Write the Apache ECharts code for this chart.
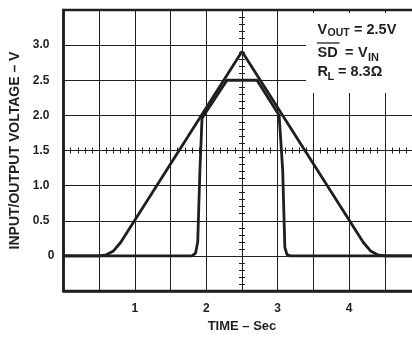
<!DOCTYPE html>
<html>
<head>
<meta charset="utf-8">
<script src="https://cdn.jsdelivr.net/npm/echarts@6/dist/echarts.min.js"></script>
<style>
  html, body { margin: 0; padding: 0; background: #fff; }
  #chart { width: 412px; height: 337px; }
</style>
</head>
<body>
<div id="chart"></div>
<script>
// input ramp (triangle), time in sec / volts
var inTime  = [0, 0.5, 0.6, 0.7, 0.8, 2.5, 4.2, 4.3, 4.4, 4.5, 5];
var inVolts = [0, 0, 0.015, 0.07, 0.19, 2.91, 0.19, 0.07, 0.015, 0, 0];
// output (clamped at 2.5V, shut down below ~2V)
var outTime  = [0, 1.8, 1.85, 1.88, 1.91, 1.94, 2.29, 2.71, 3.02, 3.07, 3.1, 3.13, 3.17, 5];
var outVolts = [0, 0, 0.04, 0.2, 1.2, 1.96, 2.5, 2.5, 2.0, 1.22, 0.12, 0.02, 0, 0];

var xTicks = [1, 2, 3, 4];
var yTicks = [0, 0.5, 1.0, 1.5, 2.0, 2.5, 3.0];

var FONT = '"Liberation Sans", Arial, sans-serif';
var INK = '#1f1f1f';

function pairs(t, v) {
  return t.map(function (x, i) { return [x, v[i]]; });
}

var chart = echarts.init(document.getElementById('chart'));

// 中心十字线上的小刻度
function crossX(inside) {
  return {
    type: 'value', min: 0, max: 5, interval: 0.5,
    position: 'bottom', offset: -140.5,
    axisLine: { show: false },
    axisTick: { show: true, inside: inside, length: 3, lineStyle: { color: INK, width: 1 } },
    minorTick: { show: true, splitNumber: 5, length: 3, lineStyle: { color: INK, width: 1 } },
    axisLabel: { show: false },
    splitLine: { show: false }
  };
}
function crossY(inside) {
  return {
    type: 'value', min: -0.5, max: 3.5, interval: 0.5,
    position: 'left', offset: -178.5,
    axisLine: { show: false },
    axisTick: { show: true, inside: inside, length: 3, lineStyle: { color: INK, width: 1 } },
    minorTick: { show: true, splitNumber: 5, length: 3, lineStyle: { color: INK, width: 1 } },
    axisLabel: { show: false },
    splitLine: { show: false }
  };
}

var option = {
  animation: false,
  backgroundColor: '#fff',
  grid: {
    show: true,
    left: 63.5, top: 10, width: 357, height: 281,
    outerBoundsMode: 'none',
    containLabel: false,
    borderColor: INK, borderWidth: 2.5
  },
  xAxis: [
    {
      type: 'value', min: 0, max: 5, interval: 0.5,
      name: 'TIME – Sec',
      nameLocation: 'middle', nameGap: 20,
      nameTextStyle: { color: INK, fontFamily: FONT, fontWeight: 'bold', fontSize: 13 },
      axisLine: { show: true, onZero: false, lineStyle: { color: INK, width: 2.5 } },
      axisTick: { show: false },
      axisLabel: {
        color: INK, fontFamily: FONT, fontWeight: 'bold', fontSize: 12, margin: 12,
        formatter: function (v) { return xTicks.indexOf(v) >= 0 ? String(v) : ''; }
      },
      splitLine: { show: true, lineStyle: { color: INK, width: 1 } }
    },
    crossX(false),
    crossX(true)
  ],
  yAxis: [
    {
      type: 'value', min: -0.5, max: 3.5, interval: 0.5,
      name: 'INPUT/OUTPUT VOLTAGE – V',
      nameLocation: 'middle', nameGap: 40,
      nameTextStyle: { color: INK, fontFamily: FONT, fontWeight: 'bold', fontSize: 14 },
      axisLine: { show: true, onZero: false, lineStyle: { color: INK, width: 2.5 } },
      axisTick: { show: false },
      axisLabel: {
        color: INK, fontFamily: FONT, fontWeight: 'bold', fontSize: 12, margin: 9,
        formatter: function (v) {
          if (yTicks.indexOf(v) < 0) return '';
          if (v === 0) return '0';
          return '{a|' + v.toFixed(1) + '}';
        },
        rich: { a: { color: INK, fontFamily: FONT, fontWeight: 'bold', fontSize: 12, padding: [0, 5, 0, 0] } }
      },
      splitLine: { show: true, lineStyle: { color: INK, width: 1 } }
    },
    crossY(false),
    crossY(true)
  ],
  graphic: [
    // 图例文字底色
    { type: 'rect', z: 10, shape: { x: 306, y: 13, width: 120, height: 80 }, style: { fill: '#fff' } },
    { type: 'text', z: 11, x: 317.5, y: 30, style: { text: 'V', font: 'bold 14.5px ' + FONT, fill: INK, verticalAlign: 'middle' } },
    { type: 'text', z: 11, x: 327.5, y: 33.5, style: { text: 'OUT', font: 'bold 10.5px ' + FONT, fill: INK, verticalAlign: 'middle' } },
    { type: 'text', z: 11, x: 354, y: 30, style: { text: '= 2.5V', font: 'bold 14.5px ' + FONT, fill: INK, verticalAlign: 'middle' } },
    { type: 'line', z: 11, shape: { x1: 317, y1: 43, x2: 339.5, y2: 43 }, style: { stroke: INK, lineWidth: 1.3 } },
    { type: 'text', z: 11, x: 317.5, y: 52.5, style: { text: 'SD', font: 'bold 14.5px ' + FONT, fill: INK, verticalAlign: 'middle' } },
    { type: 'text', z: 11, x: 345, y: 52.5, style: { text: '=', font: 'bold 14.5px ' + FONT, fill: INK, verticalAlign: 'middle' } },
    { type: 'text', z: 11, x: 358, y: 52.5, style: { text: 'V', font: 'bold 14.5px ' + FONT, fill: INK, verticalAlign: 'middle' } },
    { type: 'text', z: 11, x: 368, y: 57.5, style: { text: 'IN', font: 'bold 11px ' + FONT, fill: INK, verticalAlign: 'middle' } },
    { type: 'text', z: 11, x: 317.5, y: 71.5, style: { text: 'R', font: 'bold 14.5px ' + FONT, fill: INK, verticalAlign: 'middle' } },
    { type: 'text', z: 11, x: 327.5, y: 77, style: { text: 'L', font: 'bold 11px ' + FONT, fill: INK, verticalAlign: 'middle' } },
    { type: 'text', z: 11, x: 338, y: 71.5, style: { text: '= 8.3Ω', font: 'bold 14.5px ' + FONT, fill: INK, verticalAlign: 'middle' } }
  ],
  series: [
    {
      name: 'Input', type: 'line', xAxisIndex: 0, yAxisIndex: 0,
      showSymbol: false, smooth: false,
      lineStyle: { color: INK, width: 2.8 },
      data: pairs(inTime, inVolts)
    },
    {
      name: 'Output', type: 'line', xAxisIndex: 0, yAxisIndex: 0,
      showSymbol: false, smooth: false,
      lineStyle: { color: INK, width: 2.8 },
      data: pairs(outTime, outVolts)
    }
  ]
};

chart.setOption(option);
</script>
</body>
</html>
